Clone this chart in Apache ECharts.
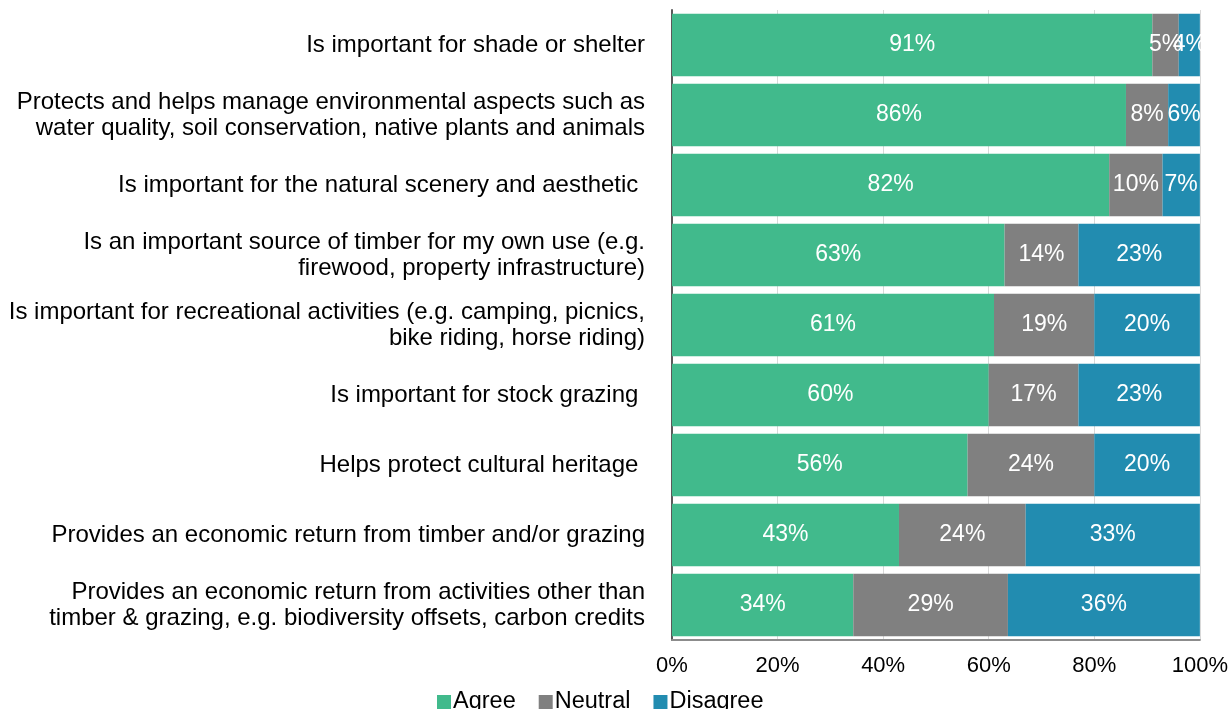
<!DOCTYPE html>
<html>
<head>
<meta charset="utf-8">
<script src="https://cdn.jsdelivr.net/npm/echarts@6/dist/echarts.min.js"></script>
<style>
  html, body { margin: 0; padding: 0; background: #fff; }
  #chart { width: 1231px; height: 709px; }
</style>
</head>
<body>
<div id="chart"></div>
<script>
// Survey statements, listed top to bottom
const categories = [
  'Is important for shade or shelter',
  'Protects and helps manage environmental aspects such as\nwater quality, soil conservation, native plants and animals',
  'Is important for the natural scenery and aesthetic ',
  'Is an important source of timber for my own use (e.g.\nfirewood, property infrastructure)',
  'Is important for recreational activities (e.g. camping, picnics,\nbike riding, horse riding)',
  'Is important for stock grazing ',
  'Helps protect cultural heritage ',
  'Provides an economic return from timber and/or grazing',
  'Provides an economic return from activities other than\ntimber & grazing, e.g. biodiversity offsets, carbon credits'
];

// Response shares (%) per statement
const agree    = [91, 86, 82, 63, 61, 60, 56, 43, 34];
const neutral  = [5, 8, 10, 14, 19, 17, 24, 24, 29];
const disagree = [4, 6, 7, 23, 20, 23, 20, 33, 36];

const seriesNames = ['Agree', 'Neutral', 'Disagree'];
const colors = ['#41BA8C', '#808080', '#228CB0'];
const tickLabels = ['0%', '20%', '40%', '60%', '80%', '100%'];

const FONT = 'Liberation Sans, Arial, sans-serif';

// Each row is scaled so its stacked bar fills 0–100%
const rows = [agree, neutral, disagree];
const totals = categories.map((_, i) => agree[i] + neutral[i] + disagree[i]);

const series = rows.map((vals, s) => ({
  name: seriesNames[s],
  type: 'bar',
  stack: 'total',
  barCategoryGap: '11%',
  itemStyle: { color: colors[s] },
  label: {
    show: true,
    position: 'inside',
    color: '#fff',
    fontFamily: FONT,
    fontSize: 23,
    formatter: p => vals[p.dataIndex] + '%'
  },
  data: vals.map((v, i) => v / totals[i] * 100)
}));

const chart = echarts.init(document.getElementById('chart'), null, { renderer: 'canvas' });
chart.setOption({
  animation: false,
  textStyle: { fontFamily: FONT },
  grid: { left: 672, right: 31, top: 10, bottom: 69, containLabel: false },
  legend: {
    data: seriesNames,
    left: 432,
    top: 685,
    itemWidth: 14,
    itemHeight: 14,
    itemGap: 23,
    icon: 'rect',
    textStyle: { fontSize: 23.5, color: '#000', padding: [0, 0, 0, -3] }
  },
  xAxis: {
    type: 'value',
    min: 0,
    max: 100,
    interval: 20,
    axisLine: { show: true, lineStyle: { color: '#8c8c8c', width: 2 } },
    axisTick: { show: false },
    splitLine: { show: true, lineStyle: { color: '#d9d9d9', width: 1 } },
    axisLabel: {
      fontSize: 22,
      color: '#000',
      margin: 15,
      formatter: v => tickLabels[v / 20]
    }
  },
  yAxis: {
    type: 'category',
    inverse: true,
    data: categories,
    axisLine: { show: true, lineStyle: { color: '#595959', width: 2 } },
    axisTick: { show: false },
    axisLabel: {
      fontSize: 24,
      color: '#000',
      margin: 27,
      lineHeight: 26,
      align: 'right'
    }
  },
  series: series
});
</script>
</body>
</html>
